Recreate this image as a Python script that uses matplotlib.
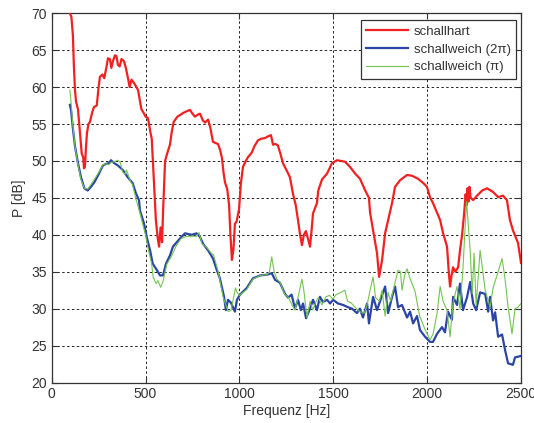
import matplotlib
matplotlib.use("Agg")
import matplotlib.pyplot as plt

# schallhart (red)
f_hart = [97, 105, 113, 118, 124, 130, 140, 150, 160, 168, 172, 177, 183, 188, 196, 204, 215, 225, 240, 250,
          257, 270, 280, 290, 300, 310, 318, 326, 337, 345, 353, 362, 372, 385, 395, 408, 415, 425, 440, 460,
          478, 490, 500, 513, 525, 533, 545, 555, 565, 572, 580, 588, 593, 600, 604, 615, 630, 640, 650, 670,
          683, 700, 725, 737, 750, 763, 780, 790, 805, 817, 833, 845, 859, 875, 886, 897, 907, 915, 923, 935,
          945, 952, 960, 968, 976, 985, 998, 1008, 1019, 1030, 1045, 1065, 1080, 1099, 1115, 1136, 1150, 1168,
          1179, 1192, 1205, 1218, 1232, 1250, 1269, 1285, 1300, 1312, 1322, 1333, 1343, 1354, 1365, 1376, 1384,
          1392, 1413, 1420, 1440, 1467, 1493, 1520, 1540, 1562, 1589, 1616, 1642, 1670, 1690, 1696, 1712, 1733,
          1744, 1760, 1776, 1792, 1813, 1829, 1856, 1893, 1919, 1951, 1980, 1999, 2015, 2031, 2069, 2085, 2106,
          2115, 2122, 2130, 2138, 2150, 2165, 2175, 2186, 2197, 2205, 2210, 2215, 2220, 2225, 2232, 2245, 2266,
          2293, 2319, 2351, 2378, 2404, 2425, 2441, 2457, 2484, 2500]
p_hart = [70.0, 69.5, 67, 63, 59.6, 58, 57, 54, 51, 50.5, 49, 49.2, 52, 53.8, 55, 55.3, 56.5, 57.3, 57.5, 60,
          61.4, 61.7, 61.2, 62.5, 63.9, 63.8, 62.6, 63.5, 64.3, 64.2, 63.0, 62.8, 63.8, 63.5, 62.6, 61, 60, 61, 60.5, 59.6,
          57, 56.5, 56, 55.8, 54, 53, 47, 42, 39.5, 38.4, 41, 39, 43, 47.5, 50, 51, 52.2, 54, 55.3, 56,
          56.2, 56.5, 56.8, 56.9, 56.4, 56, 56.3, 56.4, 55.5, 55.2, 55.6, 54.5, 52.6, 52.4, 52.3, 51.5, 50.4, 48.5, 47.1, 46.2,
          44, 40, 36.6, 38, 41.5, 41.8, 43.5, 47, 49.2, 49.8, 50.5, 51.1, 52, 52.8, 53, 53.1, 53.3, 53.5,
          52.2, 52.3, 52.1, 51, 49.7, 48.8, 47.8, 45.6, 44, 42, 40.2, 38.6, 40, 40.5, 39.5, 38.4, 40.5,
          42.9, 44.3, 46, 47.5, 48.3, 49.7, 50.1, 50, 49.9, 49.2, 48.3, 47.6, 46, 45, 43, 40.6, 37.5,
          34.3, 36.6, 40.2, 42, 44.3, 46.5, 47.4, 48.1, 48, 47.6, 47, 46.5, 45.1, 44.3, 42, 40.2, 38.4,
          35, 33, 34.5, 35.6, 35, 35.6, 37.9, 40, 42.9, 45.5, 44, 46.3, 44.5, 46.5, 45, 44.7, 45.3,
          46, 46.3, 45.8, 45.1, 45.3, 44.7, 42, 40.6, 38.9, 36.2]

# schallweich (2pi) (blue)
f_2pi = [97, 103, 112, 124, 140, 156, 174, 192, 209, 227, 252, 273, 289, 305, 316, 333, 352, 378, 405, 431,
         449, 465, 470, 492, 506, 524, 538, 556, 577, 593, 609, 630, 646, 683, 710, 746, 772, 790, 806, 833,
         859, 880, 896, 918, 928, 939, 955, 976, 987, 1003, 1039, 1072, 1110, 1147, 1172, 1190, 1216, 1243, 1259, 1278,
         1296, 1312, 1327, 1339, 1355, 1376, 1392, 1413, 1429, 1445, 1467, 1483, 1499, 1525, 1552, 1578, 1600, 1626, 1642, 1658,
         1680, 1690, 1712, 1733, 1749, 1776, 1792, 1813, 1829, 1845, 1866, 1893, 1909, 1925, 1946, 1962, 1989, 2015, 2031, 2053,
         2079, 2095, 2111, 2132, 2138, 2159, 2175, 2191, 2213, 2229, 2245, 2261, 2282, 2309, 2325, 2335, 2351, 2362, 2378, 2399,
         2415, 2431, 2457, 2468, 2500]
p_2pi = [57.6, 56.9, 54.6, 52, 49.7, 47.8, 46.3, 46, 46.5, 47.1, 48.3, 49.4, 49.6, 49.7, 50.1, 49.7, 49.4, 48.8, 47.8, 47,
         45.6, 44.7, 43.3, 41.5, 39.7, 37.9, 36.1, 35.4, 34.5, 34.5, 36.1, 37.2, 38.4, 39.5, 40.2, 40, 40.2, 39.7, 38.8, 37.9,
         36.8, 35.2, 34.1, 31.6, 29.8, 31.2, 30.8, 29.6, 31.2, 31.9, 32.8, 34.1, 34.5, 34.6, 34.8, 33.9, 33.5, 32, 31.5, 31.9,
         30, 31.2, 29.8, 30.7, 28.7, 30, 31.2, 29.8, 31.6, 30.9, 31.2, 30.7, 31.2, 30.7, 30.5, 30.2, 30, 29.4, 30, 28.8,
         30.7, 28, 31.6, 29.8, 31, 33, 29.4, 31.6, 33, 30.2, 30.5, 28.8, 29.6, 28, 29, 27.1, 26.2, 25.5, 25.5, 26.6,
         27.5, 26.8, 29.6, 28.5, 31.6, 30.5, 33.4, 29.8, 31.6, 33.6, 30.7, 29.8, 32.2, 32, 29.6, 31.6, 28.4, 29.5, 26.2, 26.5,
         24.4, 22.6, 22.4, 23.4, 23.6]

# schallweich (pi) (green)
f_pi = [97, 103, 112, 124, 140, 156, 174, 192, 209, 227, 252, 273, 289, 305, 316, 333, 352, 365, 378, 391,
        398, 405, 420, 431, 449, 470, 486, 500, 513, 533, 540, 556, 566, 580, 593, 613, 640, 665, 690, 720,
        746, 772, 785, 800, 826, 850, 862, 887, 913, 940, 955, 965, 979, 988, 1000, 1039, 1072, 1110, 1147, 1160,
        1172, 1185, 1200, 1216, 1240, 1262, 1280, 1296, 1312, 1333, 1343, 1360, 1376, 1390, 1405, 1420, 1440, 1460, 1480, 1497,
        1515, 1540, 1562, 1576, 1595, 1616, 1640, 1665, 1680, 1696, 1712, 1725, 1745, 1760, 1776, 1792, 1805, 1829, 1845, 1858,
        1866, 1880, 1893, 1910, 1935, 1960, 1990, 2015, 2031, 2053, 2069, 2085, 2106, 2122, 2138, 2159, 2175, 2191, 2200, 2210,
        2220, 2229, 2240, 2250, 2261, 2282, 2309, 2335, 2351, 2378, 2399, 2415, 2431, 2452, 2468, 2484, 2500]
p_pi = [59.6, 58, 55, 52, 49.5, 47.5, 46.3, 46.2, 46.8, 47.5, 48.5, 49.5, 49.6, 49.5, 49.8, 49.9, 50.1, 49.8, 48.5, 48.2,
        48.8, 48.3, 47.2, 46.8, 44.8, 43, 41.3, 40.0, 38.2, 36, 34.3, 33.4, 33.8, 32.9, 33.7, 36, 37.2, 38.6, 39.5, 39.8,
        39.8, 39.8, 40.3, 38.8, 38.3, 37.5, 37.3, 35, 31.6, 29.6, 29.8, 31, 32.8, 32.2, 31.8, 32.6, 34, 34.5, 34.6, 35,
        37, 35, 34, 33.6, 32, 31.5, 30.5, 29.8, 31.5, 34, 32.5, 28.8, 31, 29.8, 30.8, 31.5, 30.5, 31.6, 31.8, 31.3,
        31.9, 32.2, 32.5, 31, 30.8, 30.2, 29.6, 29.4, 30.5, 32.5, 34.3, 31.5, 31, 32.5, 29, 32.2, 31, 33.5, 35.2, 35,
        32.5, 34.5, 35.4, 34, 32.4, 29, 27.1, 25.8, 26.5, 29.4, 33, 31, 29.8, 26.2, 30.8, 33, 29.9, 35.6, 40, 44.5,
        41, 37.9, 32, 37.5, 30.4, 37.9, 32.5, 30.2, 32.8, 35, 36.8, 34, 30.2, 26.6, 30, 30.2, 30.7]

plt.rcParams['font.family'] = ['Liberation Sans', 'DejaVu Sans']
txt = '#333333'

fig = plt.figure(figsize=(5.34, 4.23), dpi=100)
ax = fig.add_axes([0.0968, 0.0957, 0.8789, 0.873])

ax.plot(f_hart, p_hart, color='#f22020', lw=1.6, label='schallhart', zorder=3)
ax.plot(f_2pi, p_2pi, color='#2b45a6', lw=1.6, label='schallweich (2π)', zorder=4)
ax.plot(f_pi, p_pi, color='#74c450', lw=0.8, label='schallweich (π)', zorder=5)

ax.set_xlim(0, 2500)
ax.set_ylim(20, 70)
ax.set_xticks(range(0, 2501, 500))
ax.set_yticks(range(20, 71, 5))
ax.grid(True, color='#222222', linestyle=(0, (2.5, 2.5)), lw=0.7)
ax.tick_params(direction='in', top=True, right=True, length=4, labelsize=10, colors=txt)
for s in ax.spines.values():
    s.set_color('#333333')
    s.set_linewidth(0.9)

ax.set_xlabel('Frequenz [Hz]', fontsize=10, color=txt, labelpad=2)
ax.set_ylabel('P [dB]', fontsize=10, color=txt, labelpad=4)

leg = ax.legend(loc='upper right', fontsize=9.5, fancybox=False, edgecolor='#333333',
                framealpha=1, borderpad=0.4, labelspacing=0.42, handlelength=3.2,
                handletextpad=0.4, borderaxespad=0, bbox_to_anchor=(0.989, 0.981))
leg.get_frame().set_linewidth(0.9)
for t in leg.get_texts():
    t.set_color(txt)

fig.savefig('out.png', dpi=100)
